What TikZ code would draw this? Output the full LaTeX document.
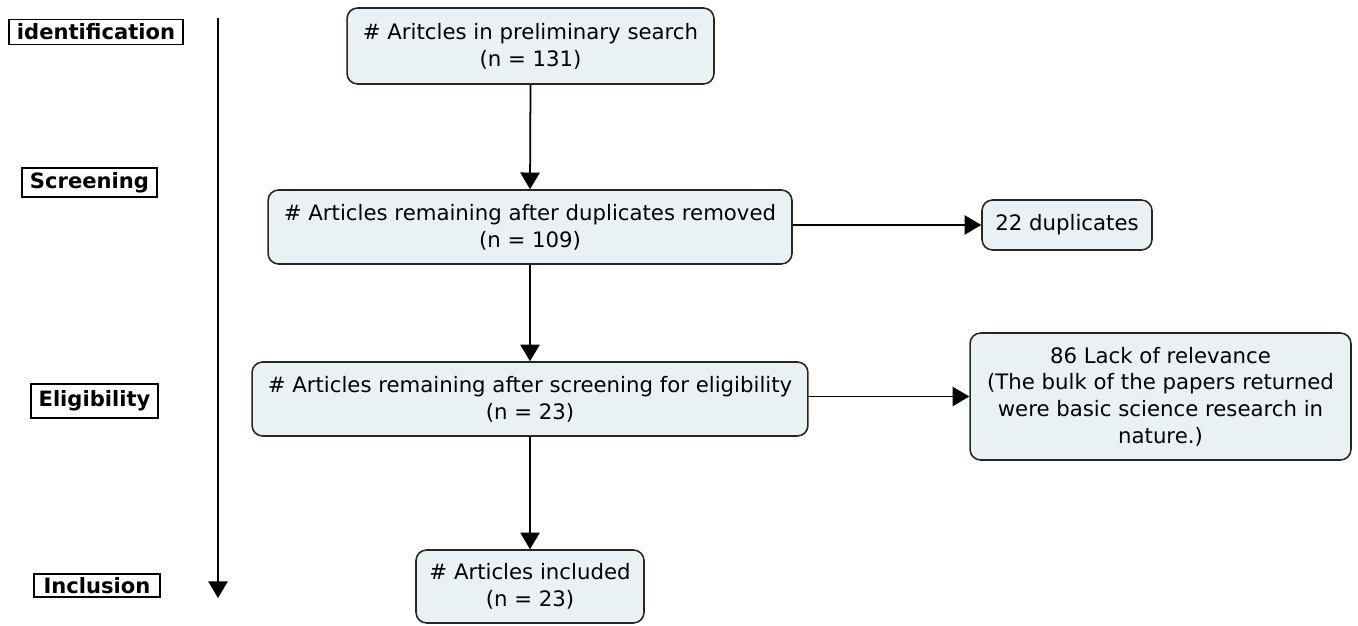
\documentclass[tikz,border=0pt]{standalone}
\usepackage{fontspec}
\setmainfont{DejaVu Sans}
\usetikzlibrary{arrows.meta}

\definecolor{boxfill}{HTML}{EAF1F5}

\tikzset{
  flowbox/.style={draw=black!85,line width=0.9pt,rounded corners=6pt,fill=boxfill,
    align=center,inner sep=2pt,font=\fontsize{12.1}{15.2}\selectfont},
  stagelabel/.style={draw=black,line width=0.8pt,inner sep=0pt,
    font=\bfseries\fontsize{12}{14}\selectfont},
  flowarrow/.style={-{Triangle[length=9.5pt,width=11pt]},line width=1pt}
}

\begin{document}
\begin{tikzpicture}[x=0.02cm,y=-0.02cm]
          \useasboundingbox (0,0) rectangle (1358,625);

          % stage labels on the left
          \node[stagelabel,minimum width=3.48cm,minimum height=0.5cm] (ident) at (96,32) {identification};
          \node[stagelabel,minimum width=2.7cm,minimum height=0.58cm] (screen) at (89.5,182.5) {Screening};
          \node[stagelabel,minimum width=2.54cm,minimum height=0.68cm] (elig) at (94.5,401) {Eligibility};
          \node[stagelabel,minimum width=2.52cm,minimum height=0.46cm] (incl) at (97,585.5) {Inclusion};

          % time line
          \coordinate (ttop) at (218,18);
          \coordinate (tbot) at (218,598);
          \draw[flowarrow] (ttop) -- (tbot);

          % flow boxes
          \node[flowbox,minimum width=7.34cm,minimum height=1.52cm] (prelim) at (530.5,46)
               {\# Aritcles in preliminary search\\(n = 131)};
          \node[flowbox,minimum width=10.48cm,minimum height=1.48cm] (dupl) at (530,227)
               {\# Articles remaining after duplicates removed\\(n = 109)};
          \node[flowbox,minimum width=3.4cm,minimum height=1.0cm] (dupn) at (1067,225)
               {22 duplicates};
          \node[flowbox,minimum width=11.12cm,minimum height=1.48cm] (screened) at (530,399)
               {\# Articles remaining after screening for eligibility\\(n = 23)};
          \node[flowbox,minimum width=7.62cm,minimum height=2.54cm] (lack) at (1160.5,396.5)
               {86 Lack of relevance\\(The bulk of the papers returned\\were basic science research in\\nature.)};
          \node[flowbox,minimum width=4.56cm,minimum height=1.46cm] (included) at (530,586.5)
               {\# Articles included\\(n = 23)};

          % connectors
          \draw[flowarrow] (prelim.south) -- (dupl.north);
          \draw[flowarrow] (dupl.south) -- (screened.north);
          \draw[flowarrow] (screened.south) -- (included.north);
          \draw[flowarrow] (dupl.east |- dupn.west) -- (dupn.west);
          \draw[flowarrow] (screened.east |- lack.west) -- (lack.west);

\end{tikzpicture}
\end{document}
